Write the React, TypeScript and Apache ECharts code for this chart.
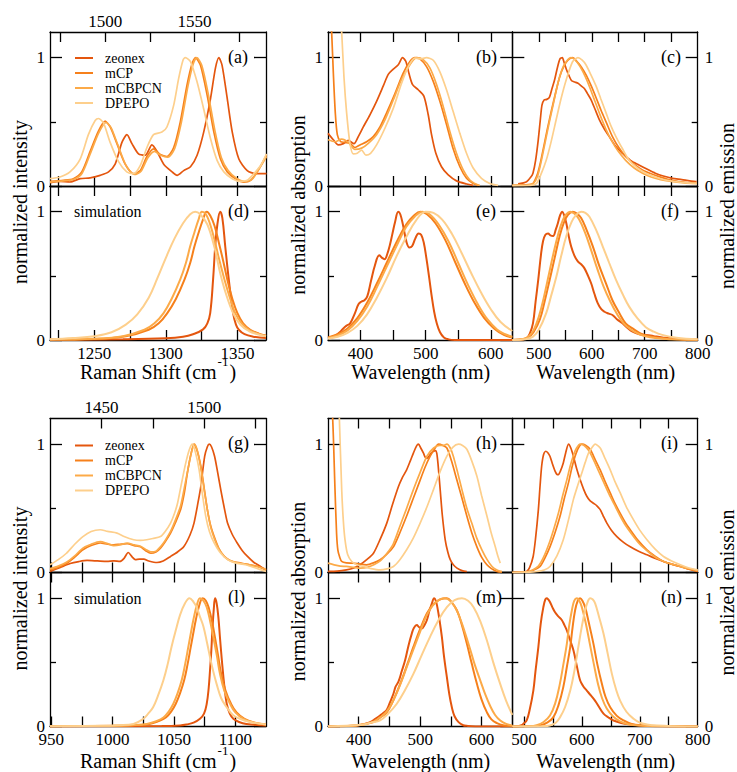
import React, { useEffect, useRef } from 'react';
import * as echarts from 'echarts';

type Pt = [number, number];

const seriesNames = ['zeonex', 'mCP', 'mCBPCN', 'DPEPO'];
const seriesColors = ['#e4560e', '#f6801b', '#fcaa48', '#fdcf8c'];

// ---------- tick values ----------
const yTicksMajor = [0, 1];
const yTicksMinor = [0.5];
const yLabels = [0, 1];

const ramanA_ticks = [1475, 1500, 1525, 1550, 1575];
const ramanA_labels = [1500, 1550];
const ramanD_ticks = [1225, 1250, 1275, 1300, 1325, 1350];
const ramanD_labels = [1250, 1300, 1350];
const wave1_ticks = [400, 450, 500, 550, 600];
const wave1_labels = [400, 500, 600];
const emis1_ticks = [500, 550, 600, 650, 700, 750];
const emis1_labels = [500, 600, 700, 800];
const ramanG_ticks = [1450, 1475, 1500, 1525];
const ramanG_labels = [1450, 1500];
const ramanL_ticks = [950, 975, 1000, 1025, 1050, 1075, 1100];
const ramanL_labels = [950, 1000, 1050, 1100];
const wave2_ticks = [400, 450, 500, 550, 600];
const wave2_labels = [400, 500, 600];
const emis2_ticks = [500, 550, 600, 650, 700, 750];
const emis2_labels = [500, 600, 700, 800];

// ---------- (a) experimental Raman ----------
const a_zeonex: Pt[] = [[1469,0.026],[1474.6,0.036],[1480.2,0.031],[1485.9,0.057],[1491.5,0.063],[1497.1,0.083],[1501.8,0.11],[1505.5,0.17],[1509.3,0.34],[1512.1,0.4],[1514.9,0.33],[1518.6,0.25],[1522.4,0.24],[1526.1,0.32],[1528.9,0.27],[1532.7,0.17],[1537.4,0.11],[1540.2,0.083],[1543.9,0.12],[1547.7,0.15],[1551.4,0.24],[1555.1,0.42],[1558.9,0.68],[1561.7,0.92],[1563.6,1.0],[1565.4,0.94],[1568.3,0.68],[1571.1,0.42],[1574.8,0.21],[1579.5,0.12],[1584.2,0.096],[1590.3,0.096]];
const a_mCP: Pt[] = [[1469,0.036],[1476.5,0.044],[1482.1,0.057],[1486.8,0.11],[1491.5,0.27],[1496.2,0.43],[1499.9,0.505],[1502.7,0.46],[1506.5,0.33],[1511.1,0.17],[1515.8,0.096],[1519.6,0.12],[1523.3,0.23],[1527,0.29],[1530.8,0.245],[1534.5,0.23],[1538.3,0.3],[1542,0.5],[1545.8,0.79],[1548.6,0.955],[1550.5,1.0],[1553.3,0.94],[1557,0.71],[1560.8,0.42],[1564.5,0.21],[1568.3,0.11],[1572.9,0.057],[1577.6,0.03],[1581.4,0.044],[1585.1,0.11],[1590.3,0.24]];
const a_mCBPCN: Pt[] = [[1469,0.03],[1476.5,0.04],[1482.1,0.05],[1487,0.1],[1491.8,0.26],[1496.5,0.42],[1500.5,0.495],[1503.2,0.455],[1507,0.32],[1511.6,0.16],[1516.3,0.09],[1520,0.115],[1523.8,0.22],[1527.5,0.27],[1531,0.24],[1535,0.225],[1538.8,0.29],[1542.5,0.49],[1546.3,0.78],[1549.2,0.95],[1551.2,1.0],[1554,0.94],[1557.6,0.72],[1561.4,0.43],[1565,0.22],[1568.8,0.12],[1573.4,0.06],[1578,0.035],[1582,0.05],[1585.5,0.12],[1590.3,0.23]];
const a_DPEPO: Pt[] = [[1469,0.057],[1474.6,0.07],[1480.2,0.11],[1485.9,0.21],[1490.5,0.4],[1494.3,0.51],[1496.2,0.526],[1499,0.49],[1502.7,0.34],[1507.4,0.19],[1512,0.11],[1515.8,0.096],[1519.6,0.16],[1523.3,0.3],[1527,0.4],[1531.7,0.42],[1534.5,0.46],[1538.3,0.63],[1541.1,0.84],[1543.5,0.98],[1544.8,1.0],[1547.7,0.97],[1551.4,0.81],[1555.1,0.6],[1558.9,0.37],[1562.6,0.2],[1566.4,0.11],[1571.1,0.057],[1575.7,0.036],[1579.5,0.044],[1583.2,0.096],[1587,0.16],[1590.3,0.25]];

// ---------- (d) simulated Raman ----------
const d_zeonex: Pt[] = [[1219,0.001],[1270,0.005],[1300,0.013],[1312,0.025],[1319,0.045],[1326,0.083],[1329,0.13],[1331,0.21],[1333,0.47],[1334.5,0.73],[1336,0.9],[1338,1.0],[1339.5,0.95],[1341.5,0.73],[1344,0.47],[1347,0.21],[1349,0.12],[1351,0.08],[1355,0.045],[1361,0.026],[1370,0.015]];
const d_mCP: Pt[] = [[1219,0.003],[1250,0.008],[1272,0.03],[1288,0.08],[1295,0.13],[1301,0.21],[1307,0.32],[1313,0.47],[1317,0.6],[1320,0.73],[1323,0.84],[1326,0.94],[1328.5,1.0],[1331,0.97],[1334,0.89],[1337,0.76],[1340,0.62],[1343,0.47],[1346.5,0.32],[1350,0.21],[1354,0.13],[1359,0.08],[1365,0.05],[1370,0.035]];
const d_mCBPCN: Pt[] = [[1219,0.003],[1250,0.01],[1270,0.03],[1285,0.08],[1292,0.13],[1298.4,0.21],[1304,0.32],[1310,0.47],[1314,0.6],[1317,0.73],[1320,0.84],[1322.9,0.94],[1325.2,1.0],[1328,0.98],[1331,0.9],[1334,0.78],[1337,0.64],[1341,0.47],[1345,0.32],[1348.5,0.21],[1353,0.13],[1358,0.08],[1364,0.05],[1370,0.03]];
const d_DPEPO: Pt[] = [[1219,0.005],[1235,0.015],[1250,0.03],[1262,0.06],[1272,0.12],[1280,0.2],[1288,0.33],[1294,0.48],[1300,0.64],[1306,0.79],[1312,0.91],[1317,0.98],[1320.5,1.0],[1324,0.98],[1329,0.9],[1334,0.72],[1338,0.52],[1342,0.36],[1347,0.21],[1352,0.12],[1358,0.07],[1364,0.045],[1370,0.03]];

// ---------- (b) experimental absorption ----------
const b_zeonex: Pt[] = [[350,0.41],[358.2,0.36],[365.8,0.32],[373.5,0.33],[381.2,0.355],[389.9,0.33],[396.5,0.385],[404.2,0.46],[414.4,0.555],[424.6,0.66],[434.9,0.78],[442.5,0.87],[450.2,0.91],[457.9,0.945],[464.5,1.0],[469.6,0.97],[474.7,0.87],[479.9,0.79],[488.5,0.75],[497.2,0.7],[503.9,0.555],[509,0.4],[515.6,0.255],[524.3,0.15],[534.6,0.086],[547.3,0.04],[562.7,0.016],[572.9,0.005]];
const b_mCP: Pt[] = [[353,1.45],[355.6,1.2],[358.2,0.88],[361.2,0.57],[364.3,0.4],[369.4,0.345],[376,0.34],[383.7,0.333],[391.4,0.3],[399.1,0.32],[409.3,0.345],[419.5,0.385],[429.8,0.46],[440,0.57],[452.8,0.72],[465.5,0.88],[475.8,0.97],[483.4,1.0],[491.1,0.99],[501.3,0.93],[511.6,0.815],[521.8,0.66],[532,0.48],[542.2,0.29],[552.5,0.15],[562.7,0.06],[572.9,0.02],[580.6,0.005]];
const b_mCBPCN: Pt[] = [[350,0.36],[360.7,0.345],[371,0.365],[381.2,0.34],[391.4,0.285],[401.6,0.295],[411.9,0.333],[424.6,0.4],[437.4,0.515],[450.2,0.67],[463,0.83],[475.8,0.945],[486,1.0],[496.2,0.985],[506.4,0.92],[516.7,0.79],[526.9,0.62],[537.1,0.425],[547.3,0.255],[557.6,0.125],[567.8,0.047],[578,0.013],[583,0.005]];
const b_DPEPO: Pt[] = [[367.4,1.45],[371,1.2],[374.5,0.85],[378.6,0.57],[383.7,0.333],[388.9,0.25],[395,0.255],[401.6,0.28],[408.3,0.24],[415.4,0.255],[424.6,0.32],[437.4,0.45],[450.2,0.605],[463,0.8],[473.2,0.93],[483.4,0.997],[491.1,0.99],[501.3,1.0],[511.6,0.98],[521.8,0.89],[532,0.75],[542.2,0.58],[552.5,0.41],[562.7,0.255],[572.9,0.14],[585.7,0.06],[598.5,0.02],[611.2,0.005]];

// ---------- (e) simulated absorption ----------
const e_zeonex: Pt[] = [[350,0.013],[360,0.03],[368,0.06],[373.5,0.09],[378,0.11],[384,0.13],[391.4,0.21],[397,0.28],[401.6,0.3],[406,0.31],[410.3,0.34],[416,0.46],[422,0.58],[428.7,0.66],[433,0.64],[437,0.63],[441,0.67],[445,0.74],[449,0.83],[453,0.92],[457.9,1.0],[461,0.98],[465,0.9],[470.7,0.76],[475,0.72],[479,0.73],[484,0.79],[489,0.83],[493,0.82],[497,0.76],[501,0.64],[505,0.5],[509,0.35],[513,0.22],[517,0.13],[522,0.06],[528,0.02],[535,0.005],[545,0],[633,0]];
const e_mCP: Pt[] = [[350,0.02],[365,0.045],[380,0.09],[395,0.17],[410,0.29],[425,0.44],[440,0.6],[455,0.76],[470,0.9],[482,0.97],[492,1.0],[502,0.98],[515,0.91],[530,0.78],[545,0.61],[560,0.44],[575,0.29],[590,0.17],[605,0.09],[620,0.04],[633,0.02]];
const e_mCBPCN: Pt[] = [[350,0.015],[365,0.035],[380,0.075],[395,0.15],[410,0.26],[425,0.41],[440,0.57],[455,0.73],[470,0.88],[483,0.96],[495,1.0],[506,0.98],[520,0.9],[535,0.77],[550,0.6],[565,0.43],[580,0.28],[595,0.16],[610,0.08],[622,0.045],[633,0.025]];
const e_DPEPO: Pt[] = [[350,0.01],[365,0.025],[380,0.055],[395,0.11],[410,0.2],[425,0.33],[440,0.48],[455,0.65],[470,0.8],[485,0.93],[500,1.0],[512,0.99],[525,0.94],[540,0.83],[555,0.68],[570,0.52],[585,0.37],[600,0.24],[615,0.14],[633,0.07]];

// ---------- (c) experimental emission ----------
const c_zeonex: Pt[] = [[461,0.016],[477,0.034],[485,0.07],[489,0.1],[494,0.2],[499,0.36],[503,0.52],[506,0.63],[510,0.67],[515,0.675],[520,0.69],[525,0.76],[530,0.83],[535,0.92],[540,0.99],[544.4,1.0],[548,0.96],[552,0.91],[557,0.86],[562,0.82],[568,0.81],[574,0.8],[580,0.78],[586,0.76],[592,0.72],[599,0.67],[606,0.6],[614,0.52],[623,0.45],[633,0.385],[645,0.31],[658,0.255],[673,0.2],[689,0.164],[705,0.13],[720,0.1],[735,0.078],[752,0.06],[770,0.05],[785,0.04],[798,0.034]];
const c_mCP: Pt[] = [[450,0.005],[480,0.01],[489,0.02],[498,0.1],[503,0.18],[508,0.28],[516,0.44],[524,0.59],[532,0.73],[539.4,0.85],[547,0.93],[555,0.98],[564,1.0],[572,0.97],[580,0.93],[590,0.86],[599,0.78],[608,0.69],[617.5,0.59],[628,0.49],[639,0.385],[651,0.3],[664,0.23],[680,0.17],[695.6,0.125],[712,0.095],[727,0.073],[745,0.05],[764,0.034],[780,0.027],[798,0.02]];
const c_mCBPCN: Pt[] = [[450,0.005],[480,0.008],[490,0.02],[498,0.08],[505,0.2],[512,0.34],[520,0.5],[528,0.65],[536,0.8],[544,0.91],[552,0.97],[561,1.0],[569,0.98],[578,0.93],[588,0.85],[597,0.76],[606,0.66],[616,0.55],[627,0.44],[638,0.35],[650,0.27],[664,0.2],[680,0.14],[696,0.1],[712,0.07],[730,0.05],[750,0.035],[775,0.025],[798,0.02]];
const c_DPEPO: Pt[] = [[450,0.003],[485,0.005],[495.6,0.02],[505,0.1],[514,0.2],[523,0.34],[533,0.52],[542,0.68],[552,0.83],[564,0.97],[574,1.0],[582,0.98],[589,0.945],[598,0.87],[608,0.78],[617,0.68],[627,0.57],[636,0.47],[645.6,0.385],[658,0.29],[670.6,0.2],[686,0.14],[702,0.1],[720,0.07],[739,0.047],[760,0.033],[780,0.025],[798,0.02]];

// ---------- (f) simulated emission ----------
const f_zeonex: Pt[] = [[450,0],[470,0.004],[477,0.013],[483,0.05],[489,0.13],[494,0.3],[499,0.47],[504,0.66],[508,0.77],[512.5,0.82],[517.5,0.83],[522,0.815],[527,0.81],[532,0.86],[536,0.91],[540,0.97],[544.4,1.0],[548,0.97],[552,0.91],[556,0.82],[561,0.73],[567,0.66],[574,0.61],[580,0.59],[586,0.56],[593,0.5],[599,0.44],[605,0.36],[611,0.29],[618,0.24],[624,0.22],[632,0.205],[639,0.195],[648,0.16],[658,0.13],[667,0.095],[677,0.065],[690,0.045],[702,0.04],[717,0.03],[733,0.02],[760,0.008],[800,0.002]];
const f_mCP: Pt[] = [[450,0],[470,0.005],[480,0.02],[490,0.06],[502,0.16],[511,0.3],[520.6,0.47],[530,0.64],[539.4,0.81],[547,0.91],[555,0.975],[564,1.0],[572,0.985],[580,0.95],[590,0.86],[602,0.73],[614,0.58],[627,0.44],[639,0.31],[652,0.21],[664,0.13],[677,0.09],[695,0.045],[714,0.026],[740,0.012],[764,0.005],[800,0.002]];
const f_mCBPCN: Pt[] = [[450,0],[470,0.008],[480,0.025],[490,0.075],[500,0.18],[510,0.34],[519,0.51],[528,0.68],[537,0.83],[545,0.93],[552,0.98],[559,1.0],[567,0.985],[576,0.94],[587,0.84],[598,0.71],[610,0.56],[622,0.42],[635,0.3],[648,0.2],[660,0.13],[674,0.08],[690,0.045],[710,0.022],[735,0.01],[765,0.004],[800,0.001]];
const f_DPEPO: Pt[] = [[450,0],[475,0.005],[489,0.026],[500,0.08],[514,0.21],[523,0.34],[533,0.49],[542,0.65],[552,0.81],[562,0.92],[570.6,0.975],[580,1.0],[588,0.99],[595.6,0.96],[608,0.86],[620.6,0.73],[633,0.6],[645.6,0.47],[658,0.36],[670.6,0.26],[686,0.17],[702,0.1],[717,0.065],[733,0.04],[760,0.018],[800,0.005]];

// ---------- (g) experimental Raman ----------
const g_zeonex: Pt[] = [[1425,0.008],[1430,0.04],[1434.8,0.07],[1439,0.085],[1443,0.094],[1448,0.09],[1452.7,0.086],[1456,0.09],[1459,0.086],[1461,0.11],[1463,0.156],[1465,0.12],[1466.5,0.1],[1468.5,0.104],[1470.6,0.104],[1473,0.09],[1477,0.078],[1480,0.09],[1483.6,0.125],[1487,0.16],[1490,0.2],[1493,0.29],[1495,0.385],[1497,0.55],[1498.3,0.67],[1500.2,0.906],[1501.5,0.98],[1502.4,1.0],[1503.5,0.98],[1505,0.906],[1506.5,0.78],[1508,0.646],[1510,0.48],[1511.3,0.385],[1513.5,0.3],[1516,0.23],[1518.5,0.17],[1521,0.125],[1524,0.08],[1526,0.06],[1528,0.04],[1530,0.02]];
const g_mCP: Pt[] = [[1425,0.02],[1429,0.04],[1433,0.07],[1437,0.12],[1441,0.177],[1445,0.21],[1449.4,0.23],[1453,0.22],[1456,0.216],[1459,0.22],[1462.5,0.224],[1466,0.21],[1469,0.2],[1471.5,0.17],[1474,0.15],[1476.5,0.16],[1478.7,0.19],[1481,0.24],[1483.6,0.307],[1486,0.39],[1488.5,0.49],[1490.3,0.62],[1491.8,0.776],[1493.5,0.92],[1495,1.0],[1496.5,0.95],[1498.3,0.83],[1500,0.65],[1501.5,0.49],[1503,0.37],[1504.8,0.28],[1507,0.19],[1509.7,0.125],[1513,0.09],[1517.8,0.073],[1522,0.06],[1526,0.047],[1530,0.02]];
const g_mCBPCN: Pt[] = [[1425,0.03],[1429,0.05],[1433,0.08],[1437,0.13],[1441,0.19],[1445,0.22],[1449.4,0.24],[1453,0.225],[1456,0.21],[1459,0.215],[1462.5,0.23],[1466,0.215],[1469,0.205],[1471.5,0.18],[1474,0.16],[1476.5,0.165],[1478.7,0.2],[1481,0.25],[1483.6,0.32],[1486,0.41],[1488.5,0.52],[1490.3,0.66],[1492,0.8],[1493.8,0.94],[1495.2,1.0],[1496.8,0.94],[1498.5,0.8],[1500.2,0.62],[1501.7,0.47],[1503.2,0.35],[1505,0.26],[1507.2,0.18],[1510,0.12],[1513,0.09],[1518,0.07],[1522,0.06],[1526,0.045],[1530,0.025]];
const g_DPEPO: Pt[] = [[1425,0.06],[1429,0.1],[1433,0.15],[1437,0.22],[1441,0.28],[1445,0.32],[1449.4,0.333],[1453,0.32],[1457.6,0.307],[1461,0.28],[1465.7,0.255],[1469,0.25],[1472,0.255],[1475,0.265],[1478.7,0.28],[1481,0.32],[1483.6,0.385],[1485.5,0.46],[1487,0.54],[1489,0.7],[1491,0.854],[1492.8,0.96],[1494.2,1.0],[1495.8,0.93],[1497.5,0.8],[1499,0.62],[1500.7,0.44],[1502.5,0.32],[1504.8,0.23],[1507.5,0.16],[1511.3,0.1],[1515,0.075],[1520,0.06],[1525,0.035],[1530,0.008]];

// ---------- (l) simulated Raman ----------
const l_zeonex: Pt[] = [[949,0],[1040,0.003],[1055,0.008],[1060.4,0.016],[1066,0.03],[1071.2,0.06],[1074.5,0.1],[1076.7,0.177],[1078.3,0.3],[1079.4,0.44],[1080.5,0.6],[1081.3,0.75],[1082.5,0.92],[1083.5,1.0],[1084.8,0.96],[1086.2,0.85],[1087.6,0.68],[1089,0.52],[1091,0.32],[1093,0.177],[1095.5,0.1],[1098.4,0.06],[1103,0.035],[1109,0.02],[1125,0.008]];
const l_mCP: Pt[] = [[949,0.001],[1002,0.005],[1017,0.01],[1030,0.02],[1037,0.04],[1043.4,0.07],[1048,0.12],[1051.5,0.177],[1055,0.26],[1058.3,0.36],[1061,0.48],[1063.7,0.62],[1066,0.74],[1067.8,0.83],[1070.5,0.94],[1073.4,1.0],[1076,0.98],[1078.5,0.92],[1081,0.82],[1083.5,0.69],[1086,0.55],[1088.5,0.41],[1092,0.28],[1096.5,0.177],[1101,0.11],[1107.5,0.06],[1116,0.03],[1125,0.018]];
const l_mCBPCN: Pt[] = [[949,0.001],[1000,0.005],[1015,0.01],[1027.8,0.02],[1035,0.04],[1041.4,0.07],[1046,0.12],[1049.5,0.177],[1053,0.26],[1056.3,0.36],[1059,0.48],[1061.7,0.62],[1064,0.74],[1065.8,0.83],[1068.5,0.94],[1071.2,1.0],[1074,0.98],[1076.7,0.93],[1079.5,0.82],[1082,0.7],[1085,0.55],[1087.5,0.41],[1091,0.28],[1095.7,0.177],[1100,0.11],[1106.6,0.06],[1115,0.03],[1125,0.016]];
const l_DPEPO: Pt[] = [[949,0.001],[990,0.005],[1005,0.01],[1017,0.02],[1025,0.06],[1029,0.1],[1033,0.15],[1037,0.24],[1041.4,0.36],[1045,0.49],[1048,0.62],[1051.5,0.75],[1055,0.87],[1059,0.96],[1062.6,1.0],[1066,0.97],[1068.5,0.93],[1071,0.86],[1074,0.78],[1077,0.65],[1079.4,0.54],[1082,0.43],[1084.8,0.33],[1088.5,0.22],[1093,0.15],[1098,0.09],[1103.8,0.06],[1112,0.035],[1125,0.016]];

// ---------- (h) experimental absorption ----------
const h_zeonex: Pt[] = [[350,0.008],[365,0.01],[380,0.02],[392,0.035],[402,0.06],[413,0.1],[424,0.15],[435,0.26],[445.7,0.385],[455,0.53],[464.7,0.67],[471,0.74],[478,0.8],[484,0.87],[489,0.93],[494,0.985],[497.3,1.0],[501,0.97],[505.4,0.93],[508,0.9],[511,0.89],[515,0.91],[518,0.93],[521.7,0.945],[525,0.95],[527,0.93],[529,0.85],[532.6,0.646],[536,0.45],[540.8,0.255],[545,0.16],[549,0.1],[554,0.06],[560,0.034],[568,0.015],[576,0.008]];
const h_mCP: Pt[] = [[352,1.6],[357.6,1.2],[361.4,0.646],[364,0.3],[366,0.177],[369,0.12],[372.3,0.086],[380,0.075],[391.3,0.073],[402,0.065],[413,0.06],[424,0.075],[434.8,0.1],[445,0.14],[456.5,0.2],[467,0.31],[478,0.44],[489,0.58],[500,0.72],[508,0.82],[516.3,0.906],[523,0.96],[530,1.0],[537,0.99],[543.5,0.97],[551,0.87],[559.8,0.72],[568,0.58],[576,0.44],[584,0.31],[592.4,0.2],[600,0.12],[608.7,0.06],[616,0.03],[625,0.008],[633,0.002]];
const h_mCBPCN: Pt[] = [[350,0.073],[360,0.06],[370,0.05],[380,0.047],[392,0.04],[403,0.034],[414,0.04],[424.6,0.06],[435,0.09],[446,0.15],[456,0.22],[467,0.36],[478,0.5],[489,0.646],[500,0.78],[511,0.906],[522,0.97],[532,0.99],[538,0.99],[543.5,1.0],[549,0.97],[554,0.906],[561,0.78],[568,0.646],[576,0.5],[584,0.385],[592,0.27],[600.5,0.177],[609,0.1],[617,0.047],[625,0.02],[633,0.008]];
const h_DPEPO: Pt[] = [[365,1.7],[368.5,1.2],[372.3,0.646],[375,0.4],[377.7,0.255],[382,0.14],[388.6,0.086],[397,0.06],[407.6,0.047],[420,0.03],[434.8,0.02],[446,0.028],[456.5,0.047],[467,0.1],[478,0.177],[489,0.27],[500,0.385],[511,0.51],[521.7,0.646],[532,0.78],[543.5,0.906],[553,0.975],[562.5,1.0],[569,0.99],[576,0.96],[584,0.87],[592.4,0.75],[600,0.6],[608.7,0.44],[615,0.32],[622.3,0.2],[627,0.12],[630.4,0.073]];

// ---------- (m) simulated absorption ----------
const m_zeonex: Pt[] = [[350,0],[380,0.003],[396.7,0.008],[408,0.018],[418.5,0.034],[427,0.06],[434.8,0.086],[440,0.105],[445.7,0.13],[451,0.19],[456.5,0.255],[460,0.31],[464.7,0.35],[470,0.43],[475.5,0.516],[481,0.63],[486.4,0.724],[490,0.77],[494.6,0.79],[498,0.775],[502.7,0.763],[507,0.79],[510.9,0.828],[515,0.9],[519,0.958],[522.8,1.0],[525.5,0.98],[528,0.93],[531.5,0.83],[535.3,0.7],[539,0.54],[543.5,0.385],[547.5,0.25],[551.6,0.15],[556,0.08],[562.5,0.034],[570,0.01],[576,0.005],[600,0],[650,0]];
const m_mCP: Pt[] = [[350,0],[380,0.003],[396.7,0.008],[410,0.02],[424,0.034],[435,0.07],[445.7,0.11],[456,0.2],[467.4,0.33],[478,0.47],[489,0.62],[500,0.76],[510.9,0.88],[521,0.95],[532.6,0.99],[543.5,1.0],[551,0.97],[559.8,0.906],[568,0.79],[576,0.646],[584,0.49],[592.4,0.333],[600,0.21],[608.7,0.11],[616,0.055],[625,0.026],[635,0.01],[650,0.003]];
const m_mCBPCN: Pt[] = [[350,0],[385,0.004],[400,0.01],[412,0.02],[425,0.04],[436,0.075],[446,0.12],[456,0.2],[467,0.32],[478,0.46],[489,0.6],[500,0.74],[510,0.86],[520,0.94],[530,0.985],[540,1.0],[549,0.98],[558,0.92],[566,0.83],[573,0.73],[581.5,0.6],[589,0.48],[597.8,0.36],[606,0.25],[614,0.16],[622,0.09],[630.4,0.047],[640,0.02],[650,0.008]];
const m_DPEPO: Pt[] = [[350,0],[380,0.005],[395,0.01],[407.6,0.016],[420,0.03],[434.8,0.047],[448,0.1],[462,0.177],[475,0.28],[489,0.41],[502,0.55],[516.3,0.7],[530,0.83],[543.5,0.93],[556,0.985],[568,1.0],[578,0.98],[587,0.93],[598,0.82],[608.7,0.67],[619,0.5],[630.4,0.33],[640,0.2],[650,0.09]];

// ---------- (i) experimental emission ----------
const i_zeonex: Pt[] = [[480,0],[495,0.003],[504.8,0.008],[510,0.04],[516,0.125],[520,0.26],[525,0.49],[528,0.68],[530.7,0.83],[534,0.92],[537.7,0.945],[541,0.935],[545,0.906],[549,0.85],[553.8,0.79],[557,0.765],[559.6,0.763],[563,0.79],[568,0.854],[572,0.93],[577,1.0],[581,0.97],[585.5,0.906],[591,0.81],[597,0.724],[603,0.65],[608.6,0.594],[614,0.56],[620,0.54],[626,0.52],[631.7,0.49],[637,0.44],[643.2,0.385],[651,0.33],[660.5,0.28],[672,0.235],[683.6,0.2],[698,0.165],[712.4,0.138],[727,0.11],[741,0.086],[755,0.065],[770,0.047],[785,0.025],[800,0.008]];
const i_mCP: Pt[] = [[480,0],[505,0.005],[517,0.02],[527.9,0.047],[536,0.11],[545,0.2],[553,0.3],[562.5,0.44],[570,0.58],[577,0.7],[583,0.82],[588.4,0.906],[594,0.97],[600,1.0],[607,0.99],[614.4,0.96],[623,0.88],[631.7,0.8],[640,0.71],[649,0.62],[657,0.54],[666.3,0.46],[675,0.39],[683.6,0.333],[697,0.25],[712.4,0.177],[727,0.125],[741,0.086],[755,0.065],[770,0.047],[785,0.025],[800,0.01]];
const i_mCBPCN: Pt[] = [[480,0],[503,0.005],[515,0.02],[525,0.05],[534,0.12],[543,0.22],[551,0.33],[560,0.47],[567,0.6],[574,0.72],[580,0.83],[586,0.92],[591,0.97],[597,1.0],[604,0.99],[612,0.95],[620,0.88],[629,0.79],[638,0.7],[647,0.61],[656,0.53],[665,0.45],[675,0.37],[686,0.3],[700,0.22],[715,0.16],[730,0.11],[745,0.08],[760,0.06],[775,0.04],[790,0.025],[800,0.015]];
const i_DPEPO: Pt[] = [[480,0],[510,0.003],[522,0.008],[535,0.02],[545,0.047],[557,0.13],[568,0.255],[577,0.41],[585.5,0.57],[593,0.68],[600,0.776],[606,0.86],[611.5,0.93],[617,0.97],[623,1.0],[631.7,0.97],[640,0.89],[649,0.8],[657,0.71],[666.3,0.62],[677,0.51],[689.3,0.41],[700,0.33],[712.4,0.255],[727,0.18],[741,0.125],[755,0.09],[770,0.06],[785,0.035],[800,0.02]];

// ---------- (n) simulated emission ----------
const n_zeonex: Pt[] = [[480,0],[490,0.002],[496,0.01],[500,0.025],[504.8,0.047],[510,0.13],[516.3,0.28],[520,0.43],[525,0.62],[529,0.8],[533.6,0.93],[537,0.99],[539.4,1.0],[542,0.99],[545,0.97],[549,0.93],[553.8,0.89],[559,0.86],[565.4,0.83],[570,0.79],[574,0.75],[580,0.67],[585.5,0.594],[591,0.48],[597,0.36],[603,0.31],[608.6,0.28],[616,0.24],[623,0.2],[630,0.15],[637.4,0.1],[646,0.07],[654.7,0.047],[668,0.028],[683.6,0.016],[700,0.008],[740,0.002],[800,0]];
const n_mCP: Pt[] = [[480,0],[515,0.001],[527.9,0.008],[540,0.03],[551,0.073],[560,0.17],[568,0.307],[574,0.46],[580,0.62],[584,0.77],[588.4,0.906],[593,0.98],[597,1.0],[601,0.98],[605.7,0.93],[612,0.81],[620,0.646],[627,0.48],[634.6,0.333],[641,0.23],[649,0.15],[660,0.085],[672,0.047],[686,0.02],[701,0.01],[730,0.003],[800,0]];
const n_mCBPCN: Pt[] = [[480,0],[510,0.002],[522,0.01],[534,0.035],[545,0.085],[554,0.18],[562,0.33],[568,0.48],[574,0.64],[578,0.78],[583,0.91],[587,0.98],[591.3,1.0],[595,0.985],[600,0.93],[607,0.8],[614,0.64],[621,0.48],[628,0.33],[635,0.22],[643,0.14],[654,0.078],[666,0.04],[680,0.018],[700,0.007],[730,0.002],[800,0]];
const n_DPEPO: Pt[] = [[480,0],[530,0.001],[545,0.008],[555,0.03],[562.5,0.073],[571,0.15],[580,0.28],[587,0.43],[594,0.62],[600,0.78],[605.7,0.906],[610,0.97],[614.4,1.0],[619,0.99],[623,0.96],[630,0.85],[637.4,0.724],[645,0.56],[651.9,0.41],[659,0.29],[666.3,0.2],[677,0.115],[689.3,0.06],[700,0.03],[712.4,0.016],[730,0.007],[760,0.002],[800,0]];

// ---------- layout ----------
const FONT = 'Liberation Serif';
const COLS: Record<string, [number, number]> = { L: [50, 216], M: [328, 184.3], R: [512.3, 185.4] };
const ROWS = [32, 186, 418.5, 572.5];
const PH = 154;
const TAG_X: Record<string, number> = { L: 228, M: 476, R: 661 };

const SC = {
  RA: { min: 1469, max: 1590, ticks: ramanA_ticks, labels: ramanA_labels },
  RD: { min: 1219, max: 1370, ticks: ramanD_ticks, labels: ramanD_labels },
  W1: { min: 350, max: 633, ticks: wave1_ticks, labels: wave1_labels },
  E1: { min: 450, max: 800, ticks: emis1_ticks, labels: emis1_labels },
  RG: { min: 1425, max: 1530, ticks: ramanG_ticks, labels: ramanG_labels },
  RL: { min: 949, max: 1125, ticks: ramanL_ticks, labels: ramanL_labels },
  W2: { min: 350, max: 650, ticks: wave2_ticks, labels: wave2_labels },
  E2: { min: 480, max: 800, ticks: emis2_ticks, labels: emis2_labels },
};

const panels = [
  { tag: '(a)', col: 'L', row: 0, top: SC.RA, bot: SC.RD, topLab: true, botLab: false, on: 'top', ySide: 'left', sim: false, data: [a_zeonex, a_mCP, a_mCBPCN, a_DPEPO] },
  { tag: '(d)', col: 'L', row: 1, top: SC.RD, bot: SC.RD, topLab: false, botLab: true, on: 'bottom', ySide: 'left', sim: true, data: [d_zeonex, d_mCP, d_mCBPCN, d_DPEPO] },
  { tag: '(b)', col: 'M', row: 0, top: SC.W1, bot: SC.W1, topLab: false, botLab: false, on: 'bottom', ySide: 'left', sim: false, data: [b_zeonex, b_mCP, b_mCBPCN, b_DPEPO] },
  { tag: '(e)', col: 'M', row: 1, top: SC.W1, bot: SC.W1, topLab: false, botLab: true, on: 'bottom', ySide: 'left', sim: true, data: [e_zeonex, e_mCP, e_mCBPCN, e_DPEPO] },
  { tag: '(c)', col: 'R', row: 0, top: SC.E1, bot: SC.E1, topLab: false, botLab: false, on: 'bottom', ySide: 'right', sim: false, data: [c_zeonex, c_mCP, c_mCBPCN, c_DPEPO] },
  { tag: '(f)', col: 'R', row: 1, top: SC.E1, bot: SC.E1, topLab: false, botLab: true, on: 'bottom', ySide: 'right', sim: true, data: [f_zeonex, f_mCP, f_mCBPCN, f_DPEPO] },
  { tag: '(g)', col: 'L', row: 2, top: SC.RG, bot: SC.RL, topLab: true, botLab: false, on: 'top', ySide: 'left', sim: false, data: [g_zeonex, g_mCP, g_mCBPCN, g_DPEPO] },
  { tag: '(l)', col: 'L', row: 3, top: SC.RL, bot: SC.RL, topLab: false, botLab: true, on: 'bottom', ySide: 'left', sim: true, data: [l_zeonex, l_mCP, l_mCBPCN, l_DPEPO] },
  { tag: '(h)', col: 'M', row: 2, top: SC.W2, bot: SC.W2, topLab: false, botLab: false, on: 'bottom', ySide: 'left', sim: false, data: [h_zeonex, h_mCP, h_mCBPCN, h_DPEPO] },
  { tag: '(m)', col: 'M', row: 3, top: SC.W2, bot: SC.W2, topLab: false, botLab: true, on: 'bottom', ySide: 'left', sim: true, data: [m_zeonex, m_mCP, m_mCBPCN, m_DPEPO] },
  { tag: '(i)', col: 'R', row: 2, top: SC.E2, bot: SC.E2, topLab: false, botLab: false, on: 'bottom', ySide: 'right', sim: false, data: [i_zeonex, i_mCP, i_mCBPCN, i_DPEPO] },
  { tag: '(n)', col: 'R', row: 3, top: SC.E2, bot: SC.E2, topLab: false, botLab: true, on: 'bottom', ySide: 'right', sim: true, data: [n_zeonex, n_mCP, n_mCBPCN, n_DPEPO] },
];

const AXIS_LINE = { color: '#000', width: 1.3 };
const TICK_FONT = 17;
const plain = (v: number) => String(v);

function makeX(gridIndex: number, position: string, sc: any, showLabels: boolean) {
  return {
    type: 'value', gridIndex, position, min: sc.min, max: sc.max,
    axisLine: { show: true, onZero: false, lineStyle: AXIS_LINE },
    axisTick: { show: true, inside: true, length: 10, customValues: sc.ticks, lineStyle: AXIS_LINE },
    axisLabel: showLabels
      ? { show: true, customValues: sc.labels, formatter: plain, margin: position === 'top' ? 4 : 6, lineHeight: 14, color: '#000', fontSize: TICK_FONT, fontFamily: FONT }
      : { show: false },
    splitLine: { show: false },
    minorTick: { show: false },
  };
}

function makeY(gridIndex: number, position: string, ticks: number[], len: number, showLine: boolean, showLabels: boolean) {
  return {
    type: 'value', gridIndex, position, min: 0, max: 1.2,
    axisLine: { show: showLine, onZero: false, lineStyle: AXIS_LINE },
    axisTick: { show: true, inside: true, length: len, customValues: ticks, lineStyle: AXIS_LINE },
    axisLabel: showLabels
      ? { show: true, customValues: yLabels, formatter: plain, margin: position === 'left' ? 5 : 7, lineHeight: 14, color: '#000', fontSize: TICK_FONT, fontFamily: FONT }
      : { show: false },
    splitLine: { show: false },
  };
}

function txt(x: number, y: number, text: string, size: number, align: string, rotation = 0) {
  return {
    type: 'text', x, y, rotation, silent: true,
    style: {
      text, fill: '#000', fontSize: size, fontFamily: FONT,
      align, verticalAlign: 'middle', textAlign: align, textVerticalAlign: 'middle',
    },
  };
}

function measure(text: string, size: number): number {
  const c = document.createElement('canvas').getContext('2d');
  if (!c) return text.length * size * 0.5;
  c.font = `${size}px ${FONT}`;
  return c.measureText(text).width;
}

function ramanTitle(y: number): any[] {
  const main = 'Raman Shift (cm';
  const w1 = measure(main, 20);
  const w2 = measure('-1', 13);
  const total = w1 + w2 + measure(')', 20) + 2;
  const x0 = 158 - total / 2;
  return [
    txt(x0, y, main, 20, 'left'),
    txt(x0 + w1 + 1, y - 11, '-1', 13, 'left'),
    txt(x0 + w1 + w2 + 2, y, ')', 20, 'left'),
  ];
}

function buildOption() {
  const grid: any[] = [];
  const xAxis: any[] = [];
  const yAxis: any[] = [];
  const series: any[] = [];
  const graphic: any[] = [];

  panels.forEach((p, i) => {
    const [left, width] = COLS[p.col];
    const top = ROWS[p.row];
    grid.push({ left, top, width, height: PH });
    xAxis.push(makeX(i, 'bottom', p.bot, p.botLab));
    xAxis.push(makeX(i, 'top', p.top, p.topLab));
    yAxis.push(makeY(i, 'left', yTicksMajor, 12, true, p.ySide === 'left'));
    yAxis.push(makeY(i, 'left', yTicksMinor, 6, false, false));
    yAxis.push(makeY(i, 'right', yTicksMajor, 12, true, p.ySide === 'right'));
    yAxis.push(makeY(i, 'right', yTicksMinor, 6, false, false));
    p.data.forEach((d, k) => {
      series.push({
        type: 'line', name: seriesNames[k], data: d,
        xAxisIndex: p.on === 'top' ? 2 * i + 1 : 2 * i, yAxisIndex: 4 * i,
        showSymbol: false, symbol: 'none', smooth: p.sim ? 0.4 : 0.25, clip: true, silent: true,
        color: seriesColors[k], itemStyle: { color: seriesColors[k] },
        lineStyle: { color: seriesColors[k], width: p.sim ? 2 : 1.7 },
        z: 2 + k,
      });
    });
    graphic.push(txt(TAG_X[p.col], top + 24.5, p.tag, 18, 'left'));
    if (p.sim && p.col === 'L') graphic.push(txt(74, top + 25.8, 'simulation', 16, 'left'));
  });

  [372, 761].forEach((y) => {
    graphic.push(...ramanTitle(y));
    graphic.push(txt(420.8, y, 'Wavelength (nm)', 20, 'center'));
    graphic.push(txt(605.8, y, 'Wavelength (nm)', 20, 'center'));
  });
  [0, 386.5].forEach((dy) => {
    graphic.push(txt(19.5, 202 + dy, 'normalized intensity', 20, 'center', Math.PI / 2));
    graphic.push(txt(297.5, 205 + dy, 'normalized absorption', 20, 'center', Math.PI / 2));
    graphic.push(txt(727, 206 + dy, 'normalized emission', 20, 'center', Math.PI / 2));
  });

  const legendBase = {
    data: seriesNames, left: 70, orient: 'vertical', icon: 'rect', itemWidth: 18, itemHeight: 2,
    itemGap: 1, selectedMode: false,
    textStyle: { fontFamily: FONT, fontSize: 14, color: '#000', lineHeight: 14, padding: [0, 0, 0, 7] },
  };

  return {
    animation: false,
    backgroundColor: '#fff',
    grid, xAxis, yAxis, series, graphic,
    legend: [
      { ...legendBase, top: 46 },
      { ...legendBase, top: 433.5 },
    ],
  };
}

export default function App() {
  const ref = useRef<HTMLDivElement>(null);
  useEffect(() => {
    const chart = echarts.init(ref.current as HTMLDivElement, undefined, { renderer: 'svg', width: 737, height: 772 });
    chart.setOption(buildOption() as any);
    return () => chart.dispose();
  }, []);
  return (
    <div
      ref={ref}
      style={{ position: 'absolute', left: 0, top: 0, width: 737, height: 772, background: '#fff' }}
    />
  );
}
